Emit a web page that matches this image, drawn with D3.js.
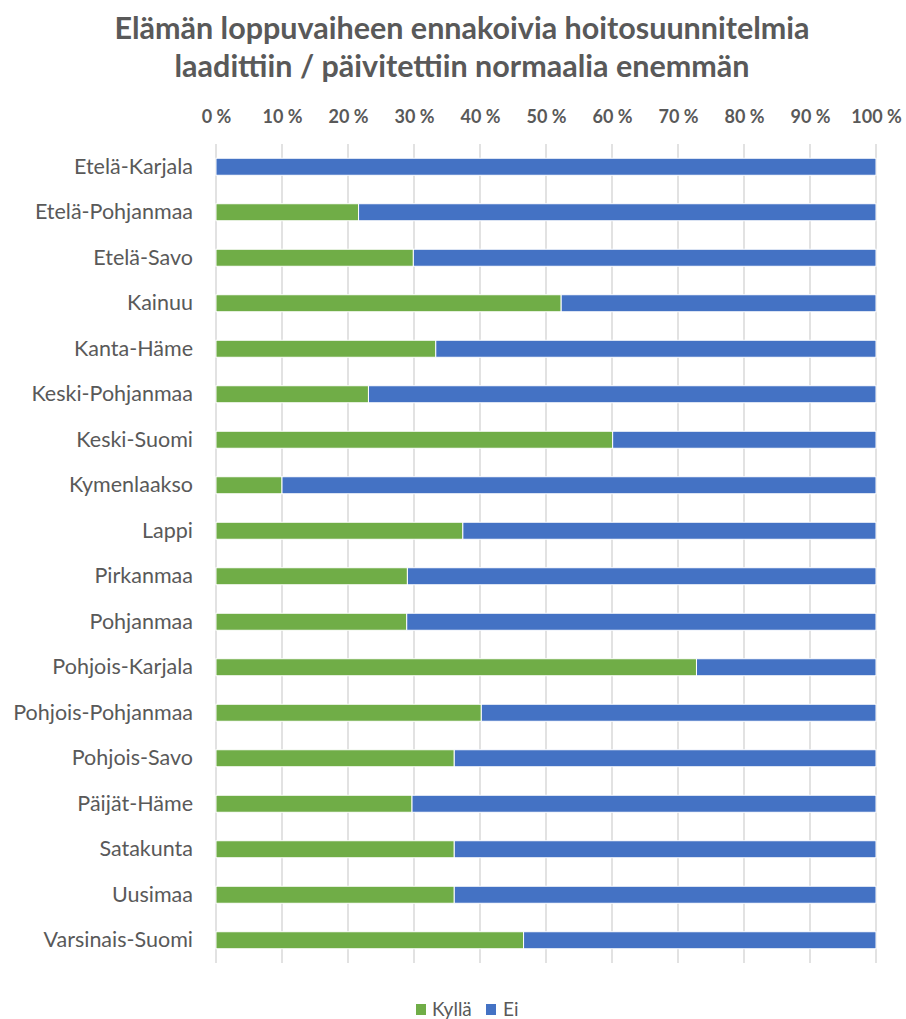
<!DOCTYPE html>
<html>
<head>
<meta charset="utf-8">
<script src="https://cdn.jsdelivr.net/npm/d3@7"></script>
<style>
  html, body { margin: 0; padding: 0; background: #fff; }
  svg { display: block; font-family: Lato, "Open Sans", sans-serif; }
</style>
</head>
<body>
<svg id="chart" width="906" height="1019"></svg>
<script>
const titleLines = ["Elämän loppuvaiheen ennakoivia hoitosuunnitelmia", "laadittiin / päivitettiin normaalia enemmän"];
const regions = ["Etelä-Karjala","Etelä-Pohjanmaa","Etelä-Savo","Kainuu","Kanta-Häme","Keski-Pohjanmaa","Keski-Suomi","Kymenlaakso","Lappi","Pirkanmaa","Pohjanmaa","Pohjois-Karjala","Pohjois-Pohjanmaa","Pohjois-Savo","Päijät-Häme","Satakunta","Uusimaa","Varsinais-Suomi"];
const kylla = [0, 21.6, 29.9, 52.3, 33.3, 23.1, 60.1, 10.0, 37.4, 29.0, 28.9, 72.8, 40.2, 36.1, 29.7, 36.1, 36.1, 46.6];
const ei = kylla.map(v => 100 - v);
const seriesNames = ["Kyllä", "Ei"];
const seriesColors = ["#70AD47", "#4472C4"];
const tickValues = [0,10,20,30,40,50,60,70,80,90,100];
const tickLabels = tickValues.map(v => v + " %");

const svg = d3.select("#chart");
const textColor = "#595959";

const x = d3.scaleLinear().domain([0, 100]).range([216, 876]);
const y = d3.scaleBand().domain(regions).range([144, 963]).paddingInner(0.626).paddingOuter(0.313);

// title
svg.append("g").selectAll("text").data(titleLines).join("text")
  .attr("x", 462).attr("y", (d, i) => 39 + i * 38)
  .attr("text-anchor", "middle")
  .attr("font-size", 30.5).attr("font-weight", "bold")
  .attr("fill", textColor)
  .text(d => d);

// gridlines
svg.append("g").selectAll("line").data(tickValues).join("line")
  .attr("x1", d => x(d)).attr("x2", d => x(d))
  .attr("y1", 144).attr("y2", 963)
  .attr("stroke", "#d9d9d9").attr("stroke-width", 1.5);

// top axis
const axis = d3.axisTop(x).tickValues(tickValues).tickFormat((d, i) => tickLabels[i]).tickSize(0).tickPadding(0);
const ag = svg.append("g").attr("transform", "translate(0,123)").call(axis);
ag.select(".domain").remove();
ag.selectAll("text").attr("font-size", 18).attr("font-weight", "bold").attr("fill", textColor)
  .attr("font-family", "Lato, 'Open Sans', sans-serif").attr("dy", 0);

// bars
const stackData = regions.map((r, i) => ({ region: r, "Kyllä": kylla[i], "Ei": ei[i] }));
const stack = d3.stack().keys(seriesNames)(stackData);
svg.append("g").selectAll("g").data(stack).join("g")
  .attr("fill", (d, i) => seriesColors[i])
  .selectAll("rect").data(d => d.filter(p => p[1] - p[0] > 0)).join("rect")
  .attr("x", d => x(d[0]))
  .attr("width", d => x(d[1]) - x(d[0]))
  .attr("y", d => y(d.data.region))
  .attr("height", y.bandwidth())
  .attr("stroke", "#fff").attr("stroke-width", 1);

// category labels
const yAxis = d3.axisLeft(y).tickSize(0).tickPadding(0);
const yg = svg.append("g").attr("transform", "translate(193,0)").call(yAxis);
yg.select(".domain").remove();
yg.selectAll("text").attr("font-size", 21.5).attr("fill", textColor)
  .attr("font-family", "Lato, 'Open Sans', sans-serif");

// legend
const legend = svg.append("g");
const legendItems = [{x: 416, tx: 432}, {x: 486, tx: 503}];
seriesNames.forEach((name, i) => {
  legend.append("rect").attr("x", legendItems[i].x).attr("y", 1004).attr("width", 10).attr("height", 11).attr("fill", seriesColors[i]);
  legend.append("text").attr("x", legendItems[i].tx).attr("y", 1016).attr("font-size", 19).attr("fill", textColor).text(name);
});
</script>
</body>
</html>
